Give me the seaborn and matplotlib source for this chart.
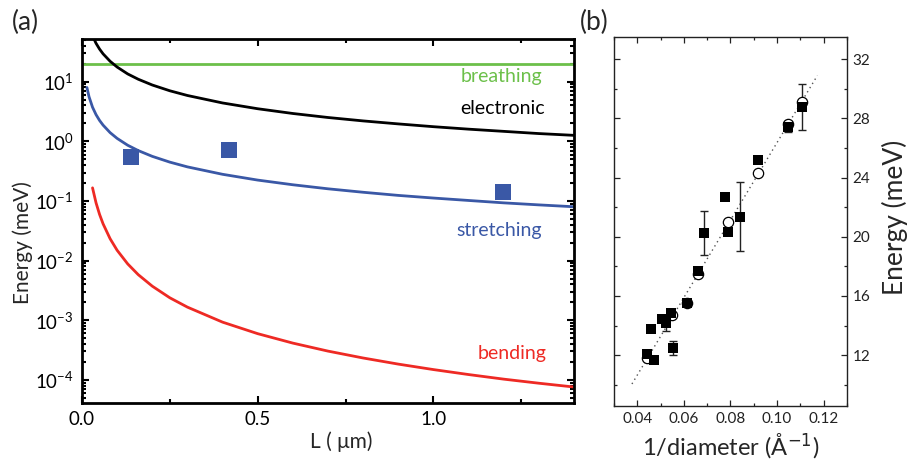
import numpy as np
import pandas as pd
import matplotlib
matplotlib.use("Agg")
import matplotlib.pyplot as plt
import matplotlib.ticker as mticker
import seaborn as sns

# ---------------- panel (a): energy scales vs. tube length ----------------
L_um = [0.03, 0.04, 0.05, 0.06, 0.08, 0.10, 0.13, 0.16, 0.20, 0.25, 0.30,
        0.40, 0.50, 0.60, 0.70, 0.80, 0.90, 1.00, 1.10, 1.20, 1.30, 1.40]
electronic = [58.7, 44.0, 35.2, 29.3, 22.0, 17.6, 13.5, 11.0, 8.8, 7.04, 5.87,
              4.40, 3.52, 2.93, 2.51, 2.20, 1.96, 1.76, 1.60, 1.47, 1.35, 1.26]
bending = [0.166, 0.093, 0.0596, 0.0414, 0.0233, 0.0149, 0.00882, 0.00582,
           0.00373, 0.00238, 0.00166, 9.3e-4, 5.96e-4, 4.14e-4, 3.04e-4,
           2.33e-4, 1.84e-4, 1.49e-4, 1.23e-4, 1.03e-4, 8.8e-5, 7.6e-5]
L_stretch = [0.014, 0.02, 0.03, 0.04, 0.05, 0.06, 0.08, 0.10, 0.13, 0.16, 0.20,
             0.25, 0.30, 0.40, 0.50, 0.60, 0.70, 0.80, 0.90, 1.00, 1.10, 1.20,
             1.30, 1.40]
stretching = [8.0, 5.6, 3.73, 2.8, 2.24, 1.87, 1.4, 1.12, 0.86, 0.70, 0.56,
              0.448, 0.373, 0.28, 0.224, 0.187, 0.16, 0.14, 0.124, 0.112,
              0.102, 0.093, 0.086, 0.08]
L_breath = [0.0, 1.4]
breathing = [20.0, 20.0]
L_meas = [0.139, 0.418, 1.199]
E_meas = [0.54, 0.71, 0.141]
decades = [1e-4, 1e-3, 1e-2, 1e-1, 1e0, 1e1]

# ---------------- panel (b): energy vs. inverse diameter ----------------
inv_d_sq = [0.1105, 0.1047, 0.0918, 0.0776, 0.0841, 0.0791, 0.0687, 0.0661,
            0.0615, 0.0544, 0.0508, 0.0523, 0.0460, 0.0555, 0.0441, 0.0473]
E_sq = [28.75, 27.45, 25.22, 22.70, 21.35, 20.33, 20.26, 17.70,
        15.53, 14.82, 14.43, 14.14, 13.74, 12.49, 12.07, 11.66]
E_sq_err = [1.55, 0.35, 0.0, 0.0, 2.32, 0.0, 1.5, 0.0,
            0.0, 0.0, 0.0, 0.5, 0.0, 0.48, 0.0, 0.0]
inv_d_circ = [0.1105, 0.1047, 0.0918, 0.0789, 0.0661, 0.0615, 0.0551, 0.0441]
E_circ = [29.11, 27.65, 24.34, 21.00, 17.50, 15.50, 14.70, 11.78]
fit_x = [0.0377, 0.1173]
fit_y = [10.05, 30.9]

sns.set_theme(style="ticks")
FONT = ["Lato", "DejaVu Sans"]
plt.rcParams["font.family"] = FONT
plt.rcParams["mathtext.fontset"] = "custom"
plt.rcParams["mathtext.rm"] = "Lato"
plt.rcParams["mathtext.it"] = "Lato:italic"

fig = plt.figure(figsize=(9.11, 4.63), dpi=100)
ax = fig.add_axes([0.090, 0.1296, 0.540, 0.7862])
bx = fig.add_axes([0.674, 0.1231, 0.2557, 0.7969])

GREEN = "#6cc04a"
BLUE = "#3a58a6"
RED = "#ee2a24"

sns.lineplot(x=L_breath, y=breathing, ax=ax, color=GREEN, lw=2.0)
sns.lineplot(x=L_um, y=electronic, ax=ax, color="black", lw=2.0)
sns.lineplot(x=L_stretch, y=stretching, ax=ax, color=BLUE, lw=2.0)
sns.lineplot(x=L_um, y=bending, ax=ax, color=RED, lw=2.0)
sns.scatterplot(x=L_meas, y=E_meas, ax=ax, marker="s", s=125, color=BLUE,
                edgecolor=BLUE, linewidth=0, zorder=5)

ax.set_yscale("log")
ax.set_xlim(0, 1.4)
ax.set_ylim(4.1e-5, 52)
ax.set_xticks([0.0, 0.5, 1.0])
ax.xaxis.set_major_formatter(mticker.FormatStrFormatter("%.1f"))
ax.xaxis.set_minor_locator(mticker.MultipleLocator(0.25))
ax.yaxis.set_major_locator(mticker.FixedLocator(decades))
ax.yaxis.set_major_formatter(mticker.LogFormatterSciNotation())
ax.yaxis.set_minor_locator(mticker.LogLocator(base=10, subs=np.arange(2, 10), numticks=20))
ax.yaxis.set_minor_formatter(mticker.NullFormatter())
ax.tick_params(which="both", direction="in", top=True, right=True, width=1.5,
               labelsize=13.5, pad=6, colors="black")
ax.tick_params(which="major", length=5)
ax.tick_params(which="minor", length=3)
for s in ax.spines.values():
    s.set_linewidth(2.0)
    s.set_color("black")
ax.set_xlabel("L ( μm)", fontsize=15)
ax.xaxis.set_label_coords(0.528, -0.077)
ax.set_ylabel("Energy (meV)", fontsize=15)
ax.yaxis.set_label_coords(-0.100, 0.44)

lab_kw = dict(ha="right", va="center", fontsize=14, transform=ax.transAxes)
ax.text(0.935, 0.898, "breathing", color=GREEN, **lab_kw)
ax.text(0.940, 0.808, "electronic", color="black", **lab_kw)
ax.text(0.935, 0.475, "stretching", color=BLUE, **lab_kw)
ax.text(0.945, 0.137, "bending", color=RED, **lab_kw)
fig.text(0.013, 0.952, "(a)", fontsize=19, ha="left", va="center")

# panel (b)
bx.errorbar(inv_d_sq, E_sq, yerr=E_sq_err, fmt="none", ecolor="#222222",
            elinewidth=1.0, capsize=3, capthick=1.0, zorder=2)
sns.lineplot(x=fit_x, y=fit_y, ax=bx, color="#555555", lw=1.0,
             linestyle=(0, (1, 2.5)), zorder=1)
sns.scatterplot(x=inv_d_circ, y=E_circ, ax=bx, marker="o", s=55,
                facecolor="white", edgecolor="black", linewidth=0.9, zorder=3)
sns.scatterplot(x=inv_d_sq, y=E_sq, ax=bx, marker="s", s=62, color="black",
                edgecolor="black", linewidth=0, zorder=4)

bx.set_xlim(0.03, 0.13)
bx.set_ylim(8.56, 33.5)
bx.set_xticks([0.04, 0.06, 0.08, 0.10, 0.12])
bx.xaxis.set_major_formatter(mticker.FormatStrFormatter("%.2f"))
bx.xaxis.set_minor_locator(mticker.MultipleLocator(0.01))
bx.yaxis.tick_right()
bx.yaxis.set_label_position("right")
bx.set_yticks([12, 16, 20, 24, 28, 32])
bx.yaxis.set_minor_locator(mticker.MultipleLocator(2))
bx.tick_params(which="both", direction="in", top=True, left=True, right=True,
               width=0.9, labelsize=11, colors="#222222")
bx.tick_params(which="major", length=4, pad=4)
bx.tick_params(which="minor", length=2.5)
for s in bx.spines.values():
    s.set_linewidth(1.0)
    s.set_color("#222222")
bx.set_xlabel("1/diameter (Å$^{\\mathsf{-1}}$)", fontsize=17, labelpad=4)
bx.set_ylabel("Energy (meV)", fontsize=19)
bx.yaxis.set_label_coords(1.15, 0.51)
fig.text(0.636, 0.952, "(b)", fontsize=19, ha="left", va="center")

fig.savefig("out.png", dpi=100)
